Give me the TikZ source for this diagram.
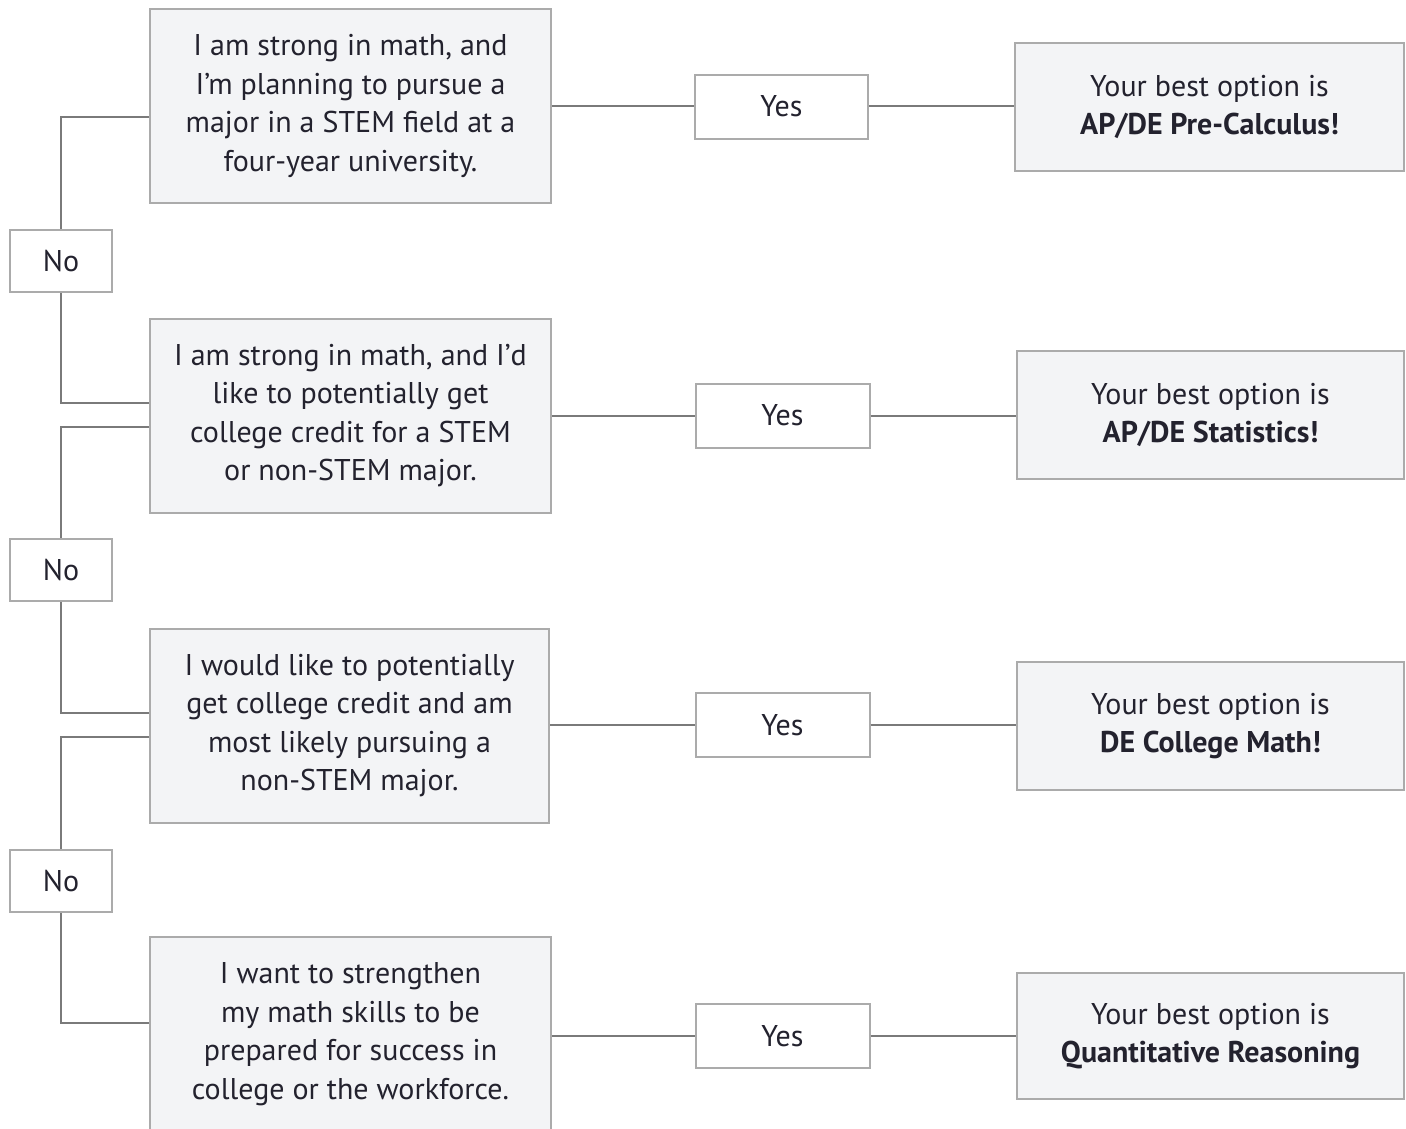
\documentclass[tikz,border=0pt]{standalone}
\usepackage{fontspec}
\setmainfont{PT Sans}
\usetikzlibrary{calc}
\definecolor{txt}{HTML}{23222E}
\definecolor{boxfill}{HTML}{F3F4F6}
\definecolor{boxline}{HTML}{ABABAB}
\definecolor{conn}{HTML}{7A7A7A}
\begin{document}
\begin{tikzpicture}[x=1pt,y=-1pt,
  base/.style={draw=boxline, line width=2pt, text=txt, align=center, inner sep=0pt,
    font=\fontsize{30}{38.5}\selectfont},
  qbox/.style={base, fill=boxfill, minimum width=401pt, minimum height=194pt},
  abox/.style={base, fill=boxfill, minimum width=388pt, minimum height=128pt},
  ybox/.style={base, fill=white!98!boxfill, minimum width=174pt, minimum height=64pt},
  nbox/.style={base, fill=white!98!boxfill, minimum width=102pt, minimum height=62pt},
  link/.style={draw=conn, line width=2pt}
]
\useasboundingbox (0,0) rectangle (1406,1128);
\fill[white] (0,0) rectangle (1406,1128);

% question boxes
\node[qbox] (q1) at (350.5,106) {I am strong in math, and\\I'm planning to pursue a\\major in a STEM field at a\\four-year university.};
\node[qbox] (q2) at (350.5,415.5) {I am strong in math, and I'd\\like to potentially get\\college credit for a STEM\\or non-STEM major.};
\node[qbox, minimum width=399pt] (q3) at (349.5,725.5) {I would like to potentially\\get college credit and am\\most likely pursuing a\\non-STEM major.};
\node[qbox] (q4) at (350.5,1034) {I want to strengthen\\my math skills to be\\prepared for success in\\college or the workforce.};

% yes boxes
\node[ybox, minimum width=173pt] (y1) at (781.5,106.5) {Yes};
\node[ybox] (y2) at (782.5,415.5) {Yes};
\node[ybox] (y3) at (782.5,725) {Yes};
\node[ybox] (y4) at (782.5,1036) {Yes};

% answer boxes
\node[abox, minimum width=389pt] (a1) at (1209.5,107) {Your best option is\\\textbf{AP/DE Pre-Calculus!}};
\node[abox, minimum width=387pt] (a2) at (1210.5,415) {Your best option is\\\textbf{AP/DE Statistics!}};
\node[abox, minimum width=387pt] (a3) at (1210.5,726) {Your best option is\\\textbf{DE College Math!}};
\node[abox, minimum width=387pt, minimum height=126pt] (a4) at (1210.5,1036) {Your best option is\\\textbf{Quantitative Reasoning}};

% no boxes
\node[nbox] (n1) at (61,261) {No};
\node[nbox] (n2) at (61,570) {No};
\node[nbox] (n3) at (61,881) {No};

% yes connectors
\draw[link] (q1.east) -- (y1.west |- q1.east);
\draw[link] (y1.east |- q1.east) -- (a1.west |- q1.east);
\draw[link] (q2.east |- y2.west) -- (y2.west);
\draw[link] (y2.east) -- (a2.west |- y2.east);
\draw[link] (q3.east |- y3.west) -- (y3.west);
\draw[link] (y3.east) -- (a3.west |- y3.east);
\draw[link] (q4.east |- y4.west) -- (y4.west);
\draw[link] (y4.east) -- (a4.west |- y4.east);

% no connectors
\draw[link] ($(q1.west)+(0,11)$) -| (n1.north);
\draw[link] (n1.south) |- ($(q2.west)+(0,-12.5)$);
\draw[link] ($(q2.west)+(0,11.5)$) -| (n2.north);
\draw[link] (n2.south) |- ($(q3.west)+(0,-12.5)$);
\draw[link] ($(q3.west)+(0,11.5)$) -| (n3.north);
\draw[link] (n3.south) |- ($(q4.west)+(0,-11)$);
\end{tikzpicture}
\end{document}
